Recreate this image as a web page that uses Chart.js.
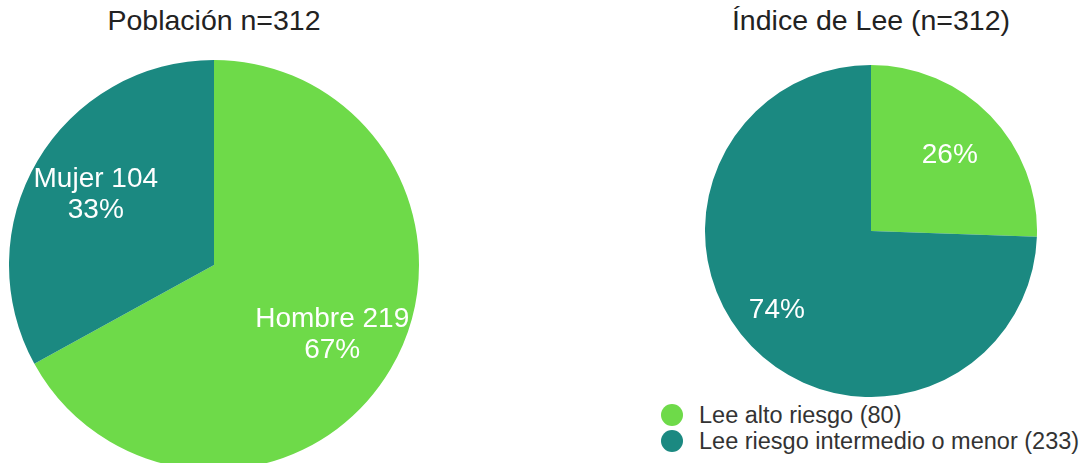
<!DOCTYPE html>
<html>
<head>
<meta charset="utf-8">
<script src="https://cdn.jsdelivr.net/npm/chart.js@4"></script>
<style>
  html, body { margin: 0; padding: 0; width: 1083px; height: 463px; overflow: hidden; background: #fff; }
  body { position: relative; font-family: 'Liberation Sans', Arial, sans-serif; }
  .title { position: absolute; top: 4px; font-size: 28.5px; color: #222; text-align: center; white-space: nowrap; }
  .box { position: absolute; }
  #legend { position: absolute; left: 661px; top: 402px; font-size: 23.5px; color: #333; }
  #legend div { display: flex; align-items: center; height: 26px; white-space: nowrap; }
  #legend span.dot { width: 22px; height: 22px; border-radius: 50%; margin-right: 16px; flex-shrink: 0; }
</style>
</head>
<body>

<div class="title" style="left:14px; width:400px;">Población n=312</div>
<div class="title" style="left:671px; width:400px;">Índice de Lee (n=312)</div>

<div class="box" style="left:9px; top:60px; width:410px; height:410px;"><canvas id="popChart"></canvas></div>
<div class="box" style="left:705px; top:65px; width:332px; height:332px;"><canvas id="leeChart"></canvas></div>

<div id="legend"></div>

<script>
// ── Colours
const GREEN = '#6eda49';
const TEAL  = '#1b8981';

// ── Población
const popLabels  = ['Hombre', 'Mujer'];
const popCounts  = [219, 104];
const popPercent = [67, 33];

// ── Índice de Lee
const leeLabels  = ['Lee alto riesgo', 'Lee riesgo intermedio o menor'];
const leeCounts  = [80, 233];
const leePercent = [26, 74];

// Draws white text inside each slice, lines given per slice
const sliceText = {
  id: 'sliceText',
  afterDatasetsDraw(chart, args, opts) {
    const { ctx } = chart;
    const arcs = chart.getDatasetMeta(0).data;
    ctx.save();
    ctx.fillStyle = '#fff';
    ctx.textAlign = 'center';
    ctx.textBaseline = 'middle';
    ctx.font = opts.size + 'px "Liberation Sans", Arial, sans-serif';
    arcs.forEach((arc, i) => {
      // label sits near the slice middle, optionally nudged round (degrees)
      const mid = (arc.startAngle + arc.endAngle) / 2 + (opts.shift[i] || 0) * Math.PI / 180;
      const r = arc.outerRadius * opts.dist[i];
      const x = arc.x + Math.cos(mid) * r;
      const y = arc.y + Math.sin(mid) * r;
      const lines = opts.lines[i];
      lines.forEach((t, j) => {
        ctx.fillText(t, x, y + (j - (lines.length - 1) / 2) * opts.lineH);
      });
    });
    ctx.restore();
  }
};

function makePie(id, values, colors, textOpts) {
  return new Chart(document.getElementById(id), {
    type: 'pie',
    data: {
      labels: values.map((v, i) => i),
      datasets: [{
        data: values,
        backgroundColor: colors,
        borderWidth: 0,
      }],
    },
    options: {
      responsive: true,
      maintainAspectRatio: false,
      animation: false,
      layout: { padding: 0 },
      plugins: {
        legend:  { display: false },
        tooltip: { enabled: false },
        sliceText: textOpts,
      },
    },
    plugins: [sliceText],
  });
}

makePie('popChart', popPercent, [GREEN, TEAL], {
  size: 28,
  lineH: 31,
  dist: [0.67, 0.67],
  shift: [0, 0],
  lines: popLabels.map((l, i) => [l + ' ' + popCounts[i], popPercent[i] + '%']),
});

makePie('leeChart', leeCounts, [GREEN, TEAL], {
  size: 28,
  lineH: 31,
  dist: [0.66, 0.74],
  shift: [0, 4],
  lines: leePercent.map(p => [p + '%']),
});

// Legend for the Lee chart
const legend = document.getElementById('legend');
const leeColors = [GREEN, TEAL];
leeLabels.forEach((l, i) => {
  const row = document.createElement('div');
  row.innerHTML = `<span class="dot" style="background:${leeColors[i]}"></span><span>${l} (${leeCounts[i]})</span>`;
  legend.appendChild(row);
});
</script>
</body>
</html>
